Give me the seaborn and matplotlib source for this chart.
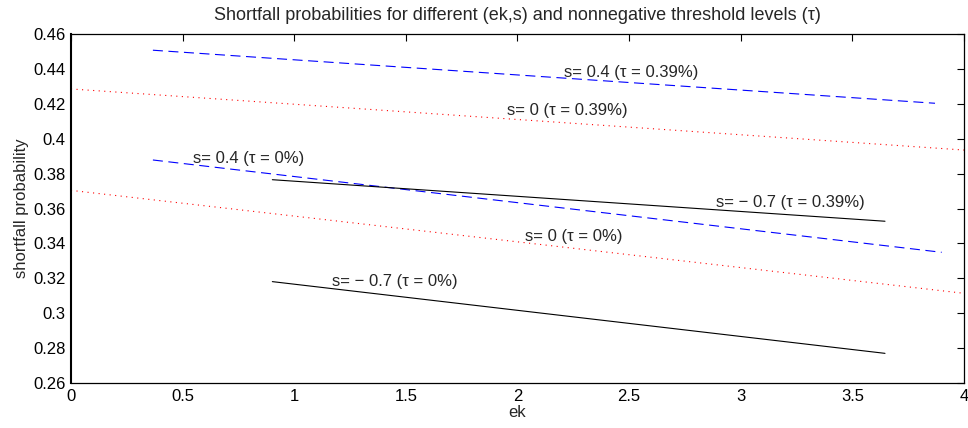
import pandas as pd
import matplotlib.pyplot as plt
import seaborn as sns
import numpy as np

# Data (ek start/end, shortfall probability start/end)
ek_s04 = [0.367, 3.87]
p_s04_t039 = [0.4507, 0.4203]
ek_s04b = [0.367, 3.90]
p_s04_t0 = [0.3878, 0.3349]

ek_s0 = [0.0, 4.0]
p_s0_t039 = [0.4285, 0.3935]
p_s0_t0 = [0.3704, 0.3114]

ek_sm07 = [0.902, 3.646]
p_sm07_t039 = [0.3765, 0.3527]
p_sm07_t0 = [0.3181, 0.2770]

labels = ["s= 0.4 (\u03c4 = 0.39%)", "s= 0 (\u03c4 = 0.39%)", "s= 0.4 (\u03c4 = 0%)",
          "s= \u2212 0.7 (\u03c4 = 0.39%)", "s= 0 (\u03c4 = 0%)", "s= \u2212 0.7 (\u03c4 = 0%)"]
label_x = [2.208, 1.951, 0.548, 2.890, 2.032, 1.167]
label_y = [0.4382, 0.4159, 0.3888, 0.3636, 0.3442, 0.3181]

xticks = [0, 0.5, 1, 1.5, 2, 2.5, 3, 3.5, 4]
xtick_labels = ["0", "0.5", "1", "1.5", "2", "2.5", "3", "3.5", "4"]
yticks = [0.26, 0.28, 0.30, 0.32, 0.34, 0.36, 0.38, 0.40, 0.42, 0.44, 0.46]
ytick_labels = ["0.26", "0.28", "0.3", "0.32", "0.34", "0.36", "0.38", "0.4", "0.42", "0.44", "0.46"]

series = [
    ("s04_t039", ek_s04, p_s04_t039, "blue", (9, 5)),
    ("s0_t039", ek_s0, p_s0_t039, "red", (1, 4)),
    ("s04_t0", ek_s04b, p_s04_t0, "blue", (9, 5)),
    ("s0_t0", ek_s0, p_s0_t0, "red", (1, 4)),
    ("sm07_t039", ek_sm07, p_sm07_t039, "black", None),
    ("sm07_t0", ek_sm07, p_sm07_t0, "black", None),
]

sns.set_style("white")
plt.rcParams['font.family'] = ['Liberation Sans', 'DejaVu Sans']
fs = 12

fig, ax = plt.subplots(figsize=(9.68, 4.28), dpi=100)
fig.subplots_adjust(left=0.0733, right=0.9959, top=0.9206, bottom=0.1051)

for name, xs, ys, color, dash in series:
    df = pd.DataFrame({"ek": xs, "p": ys})
    sns.lineplot(data=df, x="ek", y="p", ax=ax, color=color, linewidth=0.8,
                 estimator=None, sort=False)
    ln = ax.lines[-1]
    if dash is not None:
        ln.set_dashes(dash)

for t, x, y in zip(labels, label_x, label_y):
    ax.text(x, y, t, ha="left", va="center", fontsize=fs)

ax.set_xlim(0, 4)
ax.set_ylim(0.26, 0.46)
ax.set_xticks(xticks)
ax.set_xticklabels(xtick_labels)
ax.set_yticks(yticks)
ax.set_yticklabels(ytick_labels)
ax.tick_params(direction="in", top=True, right=True, length=5, width=0.8,
               labelsize=fs, colors="black", pad=4)
for sp in ax.spines.values():
    sp.set_color("black")
    sp.set_linewidth(0.9)
ax.spines["left"].set_linewidth(1.5)

ax.set_xlabel("ek", fontsize=fs, labelpad=1)
ax.set_ylabel("shortfall probability", fontsize=fs, labelpad=3)
ax.set_title("Shortfall probabilities for different (ek,s) and nonnegative threshold levels (\u03c4)",
             fontsize=13, pad=10)

fig.savefig("out.png", dpi=100)
